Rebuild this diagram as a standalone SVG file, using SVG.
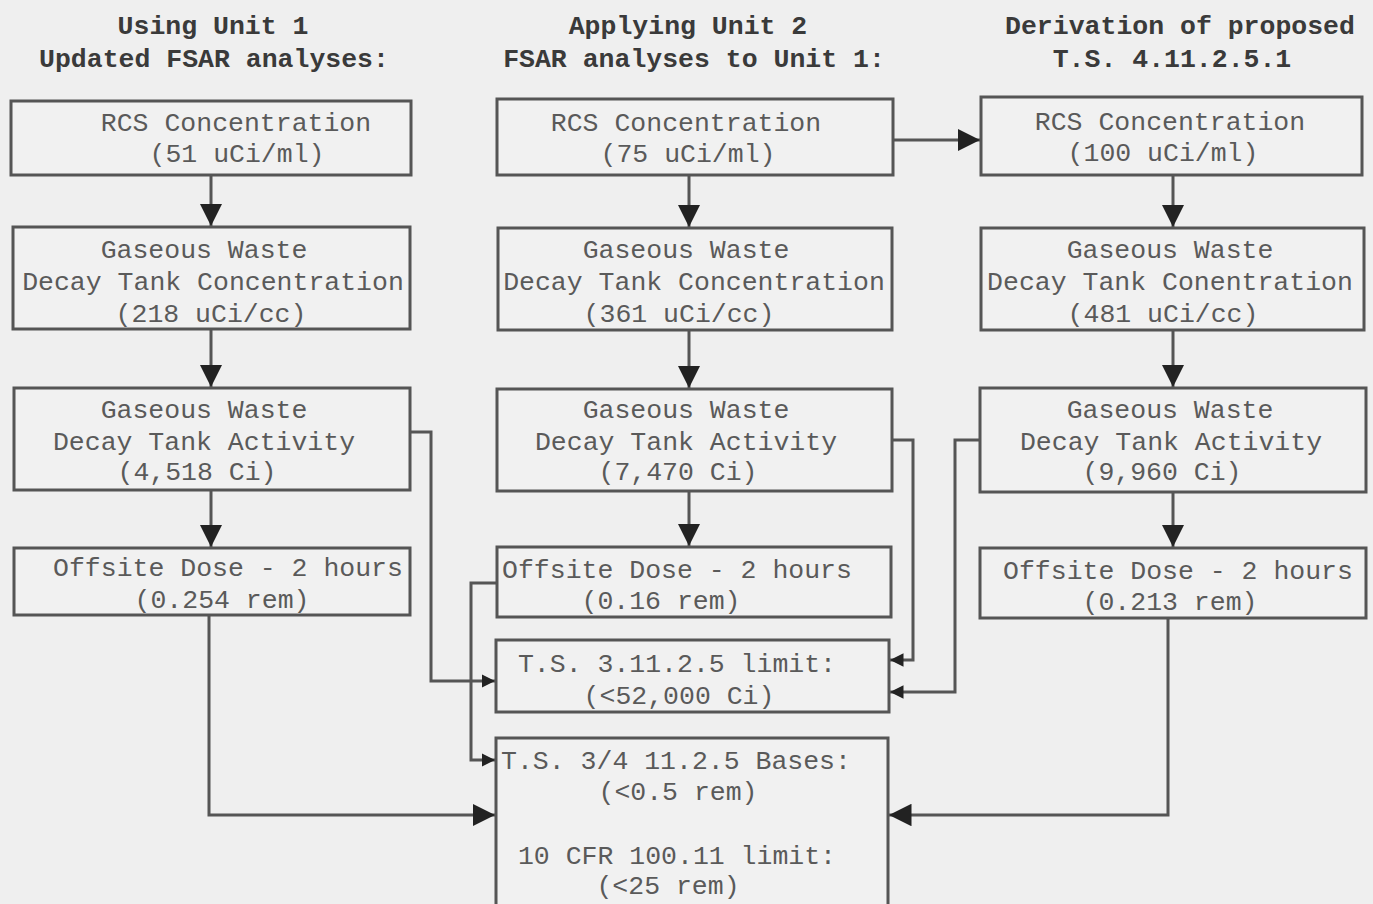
<svg xmlns="http://www.w3.org/2000/svg" width="1373" height="904" viewBox="0 0 1373 904">
<defs>
<style>
.bg{fill:#efefef}
.box{fill:#f1f1f1;stroke:#555;stroke-width:3}
.t{font-family:"Liberation Mono","DejaVu Sans Mono",monospace;font-size:26.5px;fill:#5a5a5a;text-anchor:middle}
.h{font-family:"Liberation Mono","DejaVu Sans Mono",monospace;font-size:26.5px;fill:#3a3a3a;text-anchor:middle;font-weight:bold}
.c{fill:none;stroke:#555;stroke-width:3}
</style>
<marker id="ah" viewBox="0 0 10 10" refX="10" refY="5" markerWidth="7.5" markerHeight="7.5" orient="auto" markerUnits="strokeWidth">
<path d="M0,0 L10,5 L0,10 Z" fill="#222"/>
</marker>
<marker id="as" viewBox="0 0 10 10" refX="10" refY="5" markerWidth="4.5" markerHeight="4.5" orient="auto" markerUnits="strokeWidth">
<path d="M0,0 L10,5 L0,10 Z" fill="#222"/>
</marker>
</defs>
<rect class="bg" x="0" y="0" width="1373" height="904"/>

<g id="headers">
<text class="h" x="213" y="34">Using Unit 1</text>
<text class="h" x="214" y="67">Updated FSAR analyses:</text>
<text class="h" x="688" y="34">Applying Unit 2</text>
<text class="h" x="694" y="67">FSAR analyses to Unit 1:</text>
<text class="h" x="1180" y="34">Derivation of proposed</text>
<text class="h" x="1172" y="67">T.S. 4.11.2.5.1</text>
</g>

<g id="connectors">
<line class="c" x1="211" y1="175" x2="211" y2="226" marker-end="url(#ah)"/>
<line class="c" x1="211" y1="329" x2="211" y2="387" marker-end="url(#ah)"/>
<line class="c" x1="211" y1="490" x2="211" y2="547" marker-end="url(#ah)"/>
<line class="c" x1="689" y1="175" x2="689" y2="227" marker-end="url(#ah)"/>
<line class="c" x1="689" y1="330" x2="689" y2="388" marker-end="url(#ah)"/>
<line class="c" x1="689" y1="491" x2="689" y2="546" marker-end="url(#ah)"/>
<line class="c" x1="1173" y1="175" x2="1173" y2="227" marker-end="url(#ah)"/>
<line class="c" x1="1173" y1="330" x2="1173" y2="387" marker-end="url(#ah)"/>
<line class="c" x1="1173" y1="492" x2="1173" y2="547" marker-end="url(#ah)"/>
<line class="c" x1="893" y1="140" x2="980" y2="140" marker-end="url(#ah)"/>
<polyline class="c" points="410,432 431,432 431,681 495,681" marker-end="url(#as)"/>
<polyline class="c" points="497,583 471,583 471,760 495,760" marker-end="url(#as)"/>
<polyline class="c" points="892,440 913,440 913,660 890,660" marker-end="url(#as)"/>
<polyline class="c" points="980,440 955,440 955,692 890,692" marker-end="url(#as)"/>
<polyline class="c" points="209,615 209,815 495,815" marker-end="url(#ah)"/>
<polyline class="c" points="1168,618 1168,815 889,815" marker-end="url(#ah)"/>
</g>

<g id="c1-rcs">
<rect class="box" x="11" y="101" width="400" height="74"/>
<text class="t" x="236" y="131">RCS Concentration</text>
<text class="t" x="237" y="162">(51 uCi/ml)</text>
</g>
<g id="c1-tankconc">
<rect class="box" x="13" y="227" width="397" height="102"/>
<text class="t" x="204" y="258">Gaseous Waste</text>
<text class="t" x="213" y="290">Decay Tank Concentration</text>
<text class="t" x="211" y="322">(218 uCi/cc)</text>
</g>
<g id="c1-activity">
<rect class="box" x="14" y="388" width="396" height="102"/>
<text class="t" x="204" y="418">Gaseous Waste</text>
<text class="t" x="204" y="450">Decay Tank Activity</text>
<text class="t" x="197" y="480">(4,518 Ci)</text>
</g>
<g id="c1-dose">
<rect class="box" x="14" y="548" width="396" height="67"/>
<text class="t" x="228" y="576">Offsite Dose - 2 hours</text>
<text class="t" x="222" y="608">(0.254 rem)</text>
</g>

<g id="c2-rcs">
<rect class="box" x="497" y="99" width="396" height="76"/>
<text class="t" x="686" y="131">RCS Concentration</text>
<text class="t" x="688" y="162">(75 uCi/ml)</text>
</g>
<g id="c2-tankconc">
<rect class="box" x="498" y="228" width="394" height="102"/>
<text class="t" x="686" y="258">Gaseous Waste</text>
<text class="t" x="694" y="290">Decay Tank Concentration</text>
<text class="t" x="679" y="322">(361 uCi/cc)</text>
</g>
<g id="c2-activity">
<rect class="box" x="497" y="389" width="395" height="102"/>
<text class="t" x="686" y="418">Gaseous Waste</text>
<text class="t" x="686" y="450">Decay Tank Activity</text>
<text class="t" x="678" y="480">(7,470 Ci)</text>
</g>
<g id="c2-dose">
<rect class="box" x="497" y="547" width="394" height="70"/>
<text class="t" x="677" y="578">Offsite Dose - 2 hours</text>
<text class="t" x="661" y="609">(0.16 rem)</text>
</g>
<g id="ts-limit">
<rect class="box" x="496" y="640" width="393" height="72"/>
<text class="t" x="677" y="672">T.S. 3.11.2.5 limit:</text>
<text class="t" x="679" y="704">(&lt;52,000 Ci)</text>
</g>
<g id="ts-bases">
<rect class="box" x="496" y="738" width="392" height="170"/>
<text class="t" x="676" y="769">T.S. 3/4 11.2.5 Bases:</text>
<text class="t" x="678" y="800">(&lt;0.5 rem)</text>
<text class="t" x="677" y="864">10 CFR 100.11 limit:</text>
<text class="t" x="668" y="894">(&lt;25 rem)</text>
</g>

<g id="c3-rcs">
<rect class="box" x="981" y="97" width="381" height="78"/>
<text class="t" x="1170" y="130">RCS Concentration</text>
<text class="t" x="1163" y="161">(100 uCi/ml)</text>
</g>
<g id="c3-tankconc">
<rect class="box" x="981" y="228" width="383" height="102"/>
<text class="t" x="1170" y="258">Gaseous Waste</text>
<text class="t" x="1170" y="290">Decay Tank Conentration</text>
<text class="t" x="1163" y="322">(481 uCi/cc)</text>
</g>
<g id="c3-activity">
<rect class="box" x="980" y="388" width="386" height="104"/>
<text class="t" x="1170" y="418">Gaseous Waste</text>
<text class="t" x="1171" y="450">Decay Tank Activity</text>
<text class="t" x="1162" y="480">(9,960 Ci)</text>
</g>
<g id="c3-dose">
<rect class="box" x="980" y="548" width="386" height="70"/>
<text class="t" x="1178" y="579">Offsite Dose - 2 hours</text>
<text class="t" x="1170" y="610">(0.213 rem)</text>
</g>
</svg>
